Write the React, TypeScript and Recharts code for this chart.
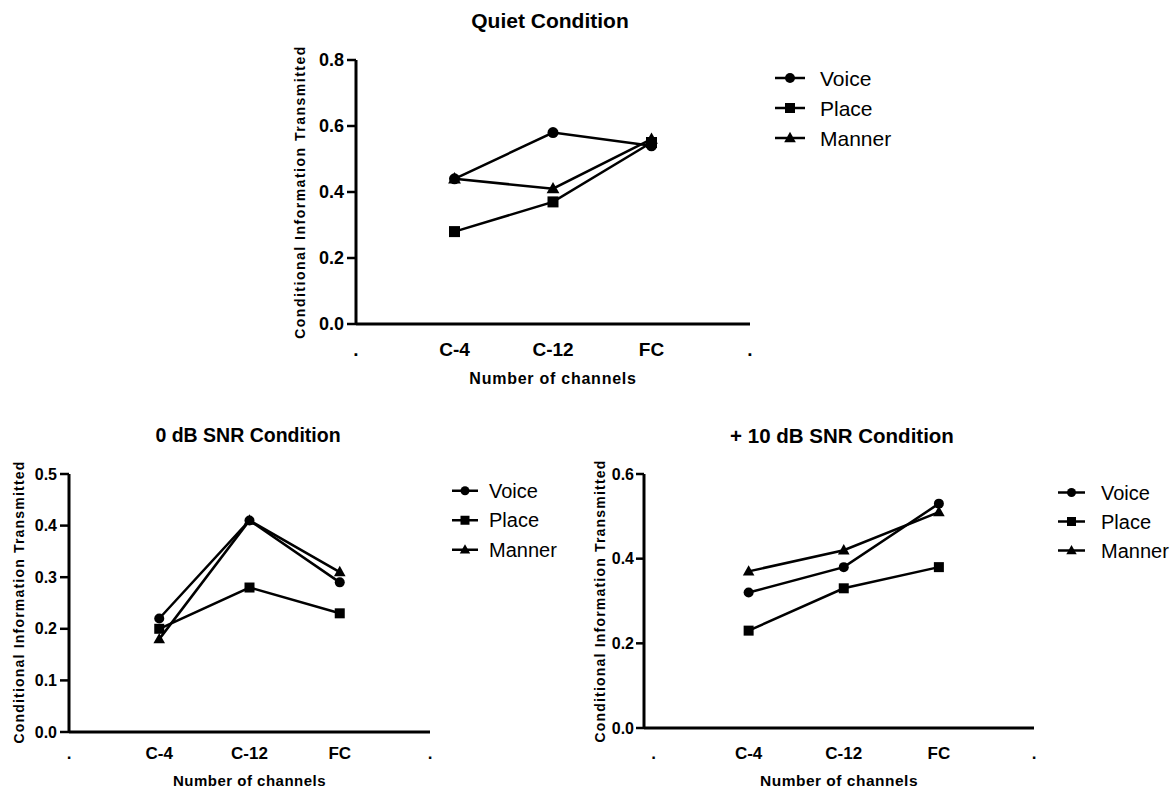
import React from 'react';
import { LineChart, Line, XAxis, YAxis, Legend } from 'recharts';

const categories = ['C-4', 'C-12', 'FC'];
const xTickLabels = ['.', 'C-4', 'C-12', 'FC', '.'];
const seriesNames = ['Voice', 'Place', 'Manner'];
const seriesShapes = ['circle', 'square', 'triangle'];

const quietVoice = [0.44, 0.58, 0.54];
const quietPlace = [0.28, 0.37, 0.55];
const quietManner = [0.44, 0.41, 0.56];
const quietYTicks = [0, 0.2, 0.4, 0.6, 0.8];

const snr0Voice = [0.22, 0.41, 0.29];
const snr0Place = [0.2, 0.28, 0.23];
const snr0Manner = [0.18, 0.41, 0.31];
const snr0YTicks = [0, 0.1, 0.2, 0.3, 0.4, 0.5];

const snr10Voice = [0.32, 0.38, 0.53];
const snr10Place = [0.23, 0.33, 0.38];
const snr10Manner = [0.37, 0.42, 0.51];
const snr10YTicks = [0, 0.2, 0.4, 0.6];

const panelTitles = ['Quiet Condition', '0 dB SNR Condition', '+ 10 dB SNR Condition'];
const xAxisTitle = 'Number of channels';
const yAxisTitle = 'Conditional Information Transmitted';

const FONT = '"Liberation Sans", Arial, Helvetica, sans-serif';

function buildRows(v: number[], p: number[], m: number[]) {
  return categories.map((c, i) => ({ x: i + 1, cat: c, Voice: v[i], Place: p[i], Manner: m[i] }));
}

function Marker({ shape, cx, cy, size }: { shape: string; cx: number; cy: number; size: number }) {
  if (shape === 'circle') return <circle cx={cx} cy={cy} r={size / 2} fill="#000" />;
  if (shape === 'square')
    return <rect x={cx - size / 2} y={cy - size / 2} width={size} height={size} fill="#000" />;
  const pts = `${cx},${cy - size * 0.62} ${cx - size * 0.58},${cy + size * 0.42} ${cx + size * 0.58},${cy + size * 0.42}`;
  return <polygon points={pts} fill="#000" />;
}

type Cfg = {
  box: { x: number; y: number; w: number; h: number };
  plot: { x1: number; x2: number; y1: number; y2: number };
  xMin: number;
  yAxisW: number;
  xAxisH: number;
  yTickFont: number;
  xTickFont: number;
  yTickSize: number;
  yTickMargin: number;
  xTickMargin: number;
  title: { cx: number; cy: number; size: number };
  xTitle: { cy: number; size: number; spacing: number };
  yTitle: { cx: number; cy: number; size: number; spacing: number };
  legend: { x1: number; x2: number; textX: number; y0: number; dy: number; size: number; marker: number; w: number };
  marker: number;
};

function Panel({ cfg, data, yTicks, title }: { cfg: Cfg; data: any[]; yTicks: number[]; title: string }) {
  const { box, plot } = cfg;
  const margin = {
    left: plot.x1 - box.x - cfg.yAxisW,
    top: plot.y1 - box.y,
    right: box.x + box.w - plot.x2,
    bottom: box.y + box.h - plot.y2 - cfg.xAxisH,
  };
  const xTitleX = (plot.x1 + plot.x2) / 2 - box.x;
  const xTitleY = cfg.xTitle.cy - box.y;
  const yTX = cfg.yTitle.cx - box.x;
  const yTY = cfg.yTitle.cy - box.y;
  const lg = cfg.legend;
  const legLeft = lg.x1 - 4;
  const legTop = lg.y0 - lg.dy / 2;
  const legW = lg.w;
  const legH = lg.dy * seriesNames.length;
  const drawOrder = [1, 0, 2];
  const th = cfg.title.size * 1.4;
  return (
    <div style={{ position: 'absolute', left: box.x, top: box.y, width: box.w, height: box.h }}>
      <LineChart width={box.w} height={box.h} data={data} margin={margin}>
        <XAxis
          type="number"
          dataKey="x"
          domain={[cfg.xMin, xTickLabels.length - 1]}
          ticks={xTickLabels.map((_, i) => i)}
          tickFormatter={(v: number) => xTickLabels[v]}
          interval={0}
          height={cfg.xAxisH}
          axisLine={{ stroke: '#000', strokeWidth: 3 }}
          tickLine={false}
          tickSize={0}
          tickMargin={cfg.xTickMargin}
          tick={{ fill: '#000', fontSize: cfg.xTickFont, fontWeight: 700, fontFamily: FONT }}
          label={{
            content: () => (
              <text
                x={xTitleX}
                y={xTitleY}
                textAnchor="middle"
                dominantBaseline="central"
                fill="#000"
                fontSize={cfg.xTitle.size}
                fontWeight={700}
                fontFamily={FONT}
                letterSpacing={cfg.xTitle.spacing}
              >
                {xAxisTitle}
              </text>
            ),
          }}
        />
        <YAxis
          type="number"
          domain={[0, yTicks[yTicks.length - 1]]}
          ticks={yTicks}
          interval={0}
          width={cfg.yAxisW}
          tickFormatter={(v: number) => v.toFixed(1)}
          axisLine={{ stroke: '#000', strokeWidth: 3 }}
          tickLine={{ stroke: '#000', strokeWidth: 2.5 }}
          tickSize={cfg.yTickSize}
          tickMargin={cfg.yTickMargin}
          tick={{ fill: '#000', fontSize: cfg.yTickFont, fontWeight: 700, fontFamily: FONT }}
          label={{
            content: () => (
              <text
                x={yTX}
                y={yTY}
                transform={`rotate(-90 ${yTX} ${yTY})`}
                textAnchor="middle"
                dominantBaseline="central"
                fill="#000"
                fontSize={cfg.yTitle.size}
                fontWeight={700}
                fontFamily={FONT}
                letterSpacing={cfg.yTitle.spacing}
              >
                {yAxisTitle}
              </text>
            ),
          }}
        />
        <Legend
          layout="vertical"
          align="center"
          verticalAlign="middle"
          wrapperStyle={{ left: legLeft - box.x, top: legTop - box.y, width: legW, height: legH }}
          content={() => (
            <svg width={legW} height={legH} style={{ display: 'block' }}>
              {seriesNames.map((name, i) => {
                const cy = lg.dy / 2 + i * lg.dy;
                const x1 = lg.x1 - legLeft;
                const x2 = lg.x2 - legLeft;
                return (
                  <g key={name}>
                    <line x1={x1} x2={x2} y1={cy} y2={cy} stroke="#000" strokeWidth={2.5} />
                    <Marker shape={seriesShapes[i]} cx={(x1 + x2) / 2} cy={cy} size={lg.marker} />
                    <text
                      x={lg.textX - legLeft}
                      y={cy}
                      dominantBaseline="central"
                      fontSize={lg.size}
                      fontFamily={FONT}
                      fill="#000"
                    >
                      {name}
                    </text>
                  </g>
                );
              })}
            </svg>
          )}
        />
        {drawOrder.map((si) => (
          <Line
            key={seriesNames[si]}
            dataKey={seriesNames[si]}
            stroke="#000"
            strokeWidth={2.5}
            isAnimationActive={false}
            activeDot={false}
            dot={(p: any) => (
              <g key={`${seriesNames[si]}-${p.index}`}>
                <Marker shape={seriesShapes[si]} cx={p.cx} cy={p.cy} size={cfg.marker} />
              </g>
            )}
          />
        ))}
      </LineChart>
      <div
        style={{
          position: 'absolute',
          left: cfg.title.cx - box.x - 200,
          top: cfg.title.cy - box.y - th / 2,
          width: 400,
          height: th,
          lineHeight: `${th}px`,
          textAlign: 'center',
          fontFamily: FONT,
          fontWeight: 700,
          fontSize: cfg.title.size,
          color: '#000',
          whiteSpace: 'nowrap',
        }}
      >
        {title}
      </div>
    </div>
  );
}

const quietCfg: Cfg = {
  box: { x: 260, y: 0, w: 680, h: 400 },
  plot: { x1: 356, x2: 750, y1: 60, y2: 324 },
  xMin: 0,
  yAxisW: 76,
  xAxisH: 60,
  yTickFont: 18,
  xTickFont: 19,
  yTickSize: 9,
  yTickMargin: 3,
  xTickMargin: 19,
  title: { cx: 550, cy: 21, size: 21 },
  xTitle: { cy: 378, size: 16, spacing: 0.75 },
  yTitle: { cx: 300, cy: 192, size: 14, spacing: 1.5 },
  legend: { x1: 775, x2: 805, textX: 820, y0: 78, dy: 30, size: 21, marker: 10, w: 160 },
  marker: 11,
};

const snr0Cfg: Cfg = {
  box: { x: 0, y: 420, w: 580, h: 369 },
  plot: { x1: 69, x2: 430, y1: 474, y2: 732 },
  xMin: 0,
  yAxisW: 69,
  xAxisH: 50,
  yTickFont: 16,
  xTickFont: 17,
  yTickSize: 9,
  yTickMargin: 3,
  xTickMargin: 15,
  title: { cx: 248, cy: 436, size: 19.5 },
  xTitle: { cy: 780, size: 15, spacing: 0.5 },
  yTitle: { cx: 19, cy: 602, size: 14, spacing: 1.2 },
  legend: { x1: 452, x2: 478, textX: 489, y0: 491, dy: 29.5, size: 20, marker: 9, w: 125 },
  marker: 10,
};

const snr10Cfg: Cfg = {
  box: { x: 580, y: 420, w: 594, h: 369 },
  plot: { x1: 644, x2: 1034, y1: 474, y2: 728 },
  xMin: -0.1,
  yAxisW: 64,
  xAxisH: 50,
  yTickFont: 16,
  xTickFont: 17,
  yTickSize: 8,
  yTickMargin: 2,
  xTickMargin: 19,
  title: { cx: 842, cy: 436, size: 20.5 },
  xTitle: { cy: 780, size: 15.5, spacing: 0.5 },
  yTitle: { cx: 600, cy: 601, size: 14, spacing: 1.2 },
  legend: { x1: 1058, x2: 1085, textX: 1101, y0: 492, dy: 29, size: 20, marker: 9, w: 116 },
  marker: 10,
};

export default function App() {
  return (
    <div style={{ position: 'absolute', left: 0, top: 0, width: 1174, height: 789, background: '#fff', overflow: 'hidden' }}>
      <Panel cfg={quietCfg} data={buildRows(quietVoice, quietPlace, quietManner)} yTicks={quietYTicks} title={panelTitles[0]} />
      <Panel cfg={snr0Cfg} data={buildRows(snr0Voice, snr0Place, snr0Manner)} yTicks={snr0YTicks} title={panelTitles[1]} />
      <Panel cfg={snr10Cfg} data={buildRows(snr10Voice, snr10Place, snr10Manner)} yTicks={snr10YTicks} title={panelTitles[2]} />
    </div>
  );
}
